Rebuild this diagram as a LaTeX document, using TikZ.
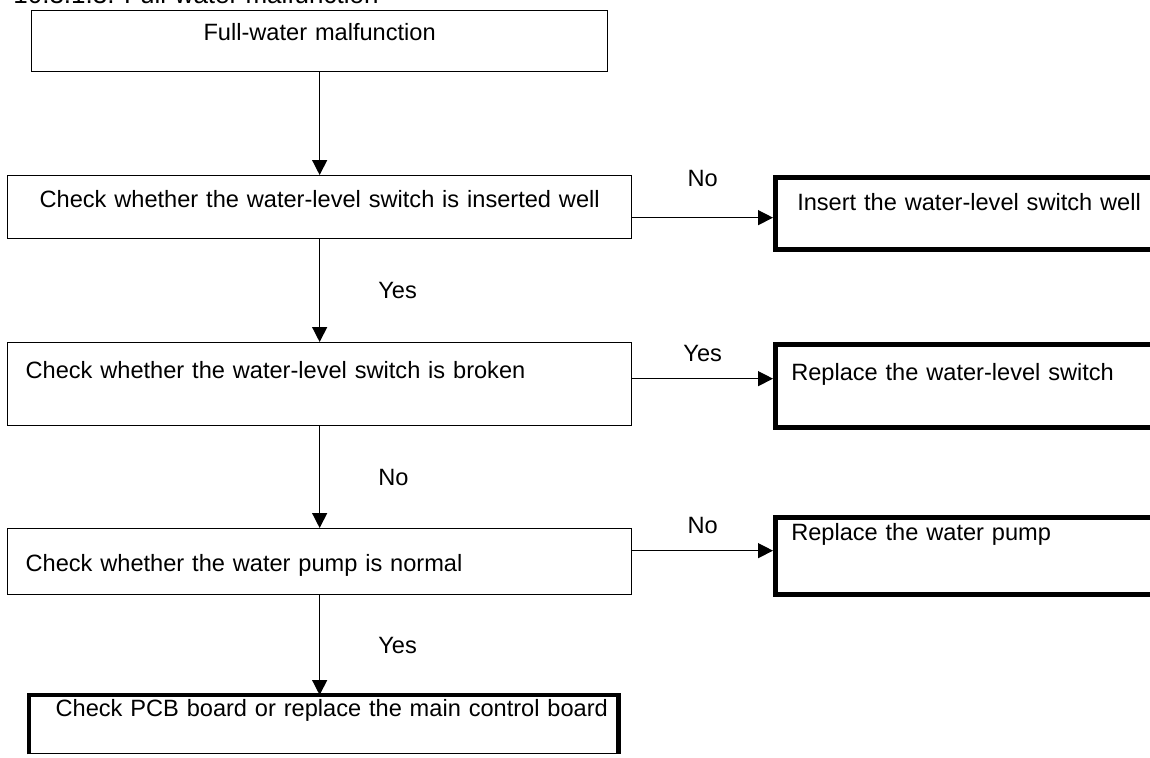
\documentclass[tikz,border=0pt]{standalone}
\usepackage{fontspec}
\setmainfont{Liberation Sans}
\usetikzlibrary{arrows.meta,positioning}
\tikzset{
  >={Triangle[length=7.5pt,width=7.5pt]},
  heavy/.style={line width=2.25pt},
  stepbox/.style={draw,line width=0.65pt,inner sep=0pt,anchor=north west,
    align=left,text width=#1,font=\fontsize{11.8}{14}\selectfont},
  stepbox/.default=312pt,
  endbox/.style={stepbox=#1,heavy},
  endbox/.default=200pt,
  flow/.style={->,line width=0.65pt},
  tag/.style={font=\fontsize{11.8}{14}\selectfont,inner sep=0pt},
}

\begin{document}
\begin{tikzpicture}[x=0.5pt,y=-0.5pt]
    \useasboundingbox (0,0) rectangle (1150,757);
    \node[anchor=base west,inner sep=0pt,font=\fontsize{13}{16}\selectfont] (title) at (13,3.5) {10.3.1.3. Full-water malfunction};
    % main column
    \node[stepbox=288pt,align=center,text height=15pt,text depth=15.5pt] (start) at (31,10) {Full-water malfunction};
    \node[stepbox,text height=16pt,text depth=15.5pt] (inserted) at (7,175) {\hspace*{16pt}Check whether the water-level switch is inserted well};
    \node[stepbox,text height=18pt,text depth=23.5pt] (broken) at (7,342) {\hspace*{9pt}Check whether the water-level switch is broken};
    \node[stepbox,text height=21.5pt,text depth=11.5pt] (pump) at (7,528) {\hspace*{9pt}Check whether the water pump is normal};
    \node[stepbox=294pt,text height=10.5pt,text depth=18.5pt] (board) at (29,695) {\hspace*{13pt}\mbox{Check PCB board or replace the main control board}};
    \draw[heavy] (board.south west) -- (board.north west) -- (board.north east) -- (board.south east);
    % repairs
    \node[endbox,text height=16.5pt,text depth=19.5pt] (insert) at (773,175) {\hspace*{11pt}Insert the water-level switch well};
    \node[endbox,text height=18pt,text depth=23.5pt] (switch) at (773,342) {\hspace*{8pt}Replace the water-level switch};
    \node[endbox,text height=11.5pt,text depth=27pt] (newpump) at (773,515) {\hspace*{8pt}Replace the water pump};
    % arrows
    \draw[flow] (start.south -| inserted.north) -- (inserted.north);
    \draw[flow] (inserted) -- node[tag,right=29pt] {Yes} (broken);
    \draw[flow] (broken) -- node[tag,right=29pt] {No} (pump);
    \draw[flow] (pump.south) -- node[tag,right=29pt] {Yes} (pump.south |- board.north);
    \draw[flow] ([yshift=-5.25pt]inserted.east) -- node[tag,above=15pt] {No} ([yshift=-5.25pt]inserted.east -| insert.west);
    \draw[flow] ([yshift=2.75pt]broken.east) -- node[tag,above=8pt] {Yes} ([yshift=2.75pt]broken.east -| switch.west);
    \draw[flow] ([yshift=5.5pt]pump.east) -- node[tag,above=8pt] {No} ([yshift=5.5pt]pump.east -| newpump.west);
\end{tikzpicture}
\end{document}
